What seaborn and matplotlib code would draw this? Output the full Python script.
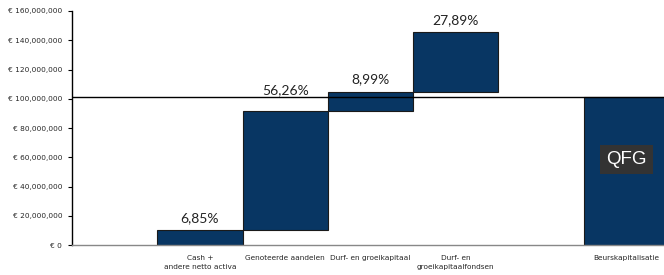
import matplotlib
matplotlib.use("Agg")
import matplotlib.pyplot as plt
import matplotlib.ticker as mticker
import pandas as pd
import seaborn as sns

# categorie-as (lege posities horen bij de layout van de waterval)
categories = ["", "Cash +\nandere netto activa", "Genoteerde aandelen",
              "Durf- en groeikapitaal", "Durf- en\ngroeikapitaalfondsen",
              " ", "Beurskapitalisatie"]

bar_names = ["Cash +\nandere netto activa", "Genoteerde aandelen",
             "Durf- en groeikapitaal", "Durf- en\ngroeikapitaalfondsen",
             "Beurskapitalisatie"]
bar_bottom = [0, 9.97e6, 91.83e6, 104.91e6, 0]
bar_height = [9.97e6, 81.86e6, 13.08e6, 40.58e6, 101.5e6]
pct_labels = ["6,85%", "56,26%", "8,99%", "27,89%", ""]

market_cap = 101.5e6
y_ticks = [0, 20e6, 40e6, 60e6, 80e6, 100e6, 120e6, 140e6, 160e6]

navy = "#083663"

df = pd.DataFrame({"categorie": bar_names, "hoogte": bar_height})

sns.set_style("white")
plt.rcParams["font.family"] = ["DejaVu Sans"]

fig = plt.figure(figsize=(6.64, 2.75), dpi=100)
ax = fig.add_axes([72 / 664, 30 / 275, 597 / 664, 234 / 275])

sns.barplot(data=df, x="categorie", y="hoogte", order=categories,
            color=navy, saturation=1, width=1.0, bottom=bar_bottom,
            edgecolor="#1a1a1a", linewidth=0.8, ax=ax, zorder=2)

# lijn op niveau van de beurskapitalisatie
ax.axhline(market_cap, color="black", linewidth=1.0, zorder=3)

# percentages boven de balken
for i, name in enumerate(bar_names):
    if not pct_labels[i]:
        continue
    xpos = categories.index(name)
    top = bar_bottom[i] + bar_height[i]
    if market_cap - 12e6 < top < market_cap:
        ytxt, off = market_cap, 2
    else:
        ytxt, off = top, 6
    ax.annotate(pct_labels[i], (xpos, ytxt), xytext=(0, off),
                textcoords="offset points", ha="center", va="baseline",
                fontsize=10, family="Lato", color="#222222")

# QFG label in de laatste balk
ax.text(categories.index("Beurskapitalisatie"), 58.8e6, "QFG",
        ha="center", va="center", fontsize=13.5, family="Liberation Sans",
        color="white",
        bbox=dict(boxstyle="square,pad=0.32", facecolor="#333333",
                  edgecolor="none"), zorder=4)

ax.set_xlim(-0.5, len(categories) - 0.5)
ax.set_ylim(0, 160e6)
ax.set_yticks(y_ticks)
ax.yaxis.set_major_formatter(
    mticker.FuncFormatter(lambda v, p: "€ " + f"{v:,.0f}"))
ax.set_xlabel("")
ax.set_ylabel("")

ax.set_xticks(range(len(categories)))
ax.set_xticklabels(categories, linespacing=1.7)
ax.set_xticks([i - 0.5 for i in range(len(categories) + 1)], minor=True)
ax.tick_params(axis="x", which="major", length=2, direction="in",
               color="#888888", labelsize=5.3, pad=7)
ax.tick_params(axis="x", which="minor", length=3, direction="out",
               color="#888888")
ax.tick_params(axis="y", length=3, direction="out", color="black",
               labelsize=5.3, pad=4, left=True)

for side in ["top", "right"]:
    ax.spines[side].set_visible(False)
ax.spines["left"].set_color("black")
ax.spines["left"].set_linewidth(1.0)
ax.spines["bottom"].set_color("#888888")
ax.spines["bottom"].set_linewidth(1.0)

fig.savefig("out.png", dpi=100)
